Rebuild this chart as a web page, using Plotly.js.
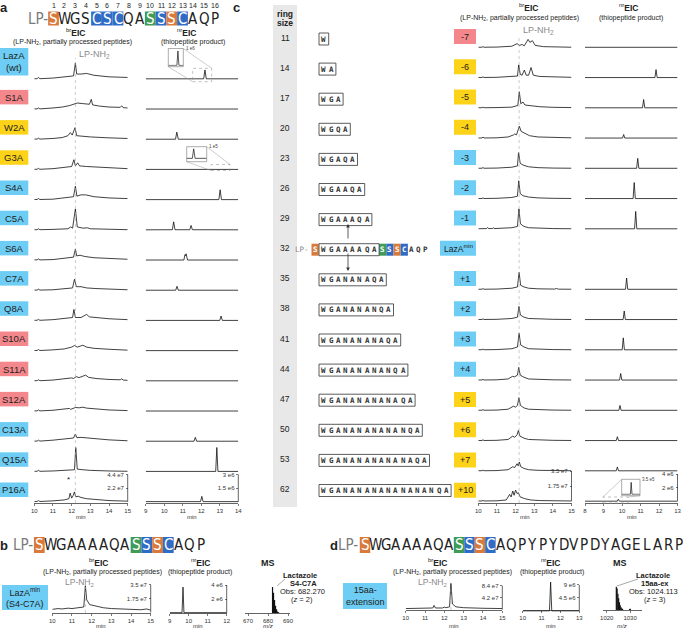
<!DOCTYPE html>
<html>
<head>
<meta charset="utf-8">
<script src="https://cdn.plot.ly/plotly-3.0.1.min.js"></script>
<style>html,body{margin:0;padding:0;background:#fff;}#chart{width:683px;height:630px;}</style>
</head>
<body>
<div id="chart"></div>
<script>
// ======================= DATA =======================
// ---- Panel a : LazA point mutants ----
const aRows  = ['LazA<br>(wt)','S1A','W2A','G3A','S4A','C5A','S6A','C7A','Q8A','S10A','S11A','S12A','C13A','Q15A','P16A'];
const aClass = ['act','none','low','low','act','act','act','act','act','none','none','none','act','act','act'];
const seqA      = ['S','W','G','S','C','S','C','Q','A','S','S','S','C','A','Q','P'];
const seqAColor = ['o','','','','b','b','b','','','g','b','o','b','','',''];

// brEIC traces, panel a  [time (min), intensity (x1e7)]
const brA_wt  = [[10,0.05],[10.15,0.05],[10.22,0.25],[10.3,0.05],[11,0.15],[11.6,0.3],[12.1,0.5],[12.2,2.6],[12.27,0.8],[12.5,0.8],[12.8,0.9],[13.2,0.6],[14,0.35],[15,0.25]];
const brA_S1A = [[10,0.05],[10.15,0.05],[10.22,0.2],[10.3,0.05],[11,0.2],[11.5,0.35],[11.9,0.6],[12.1,0.85],[12.3,1.0],[12.6,0.9],[12.95,0.8],[13.05,1.6],[13.12,0.7],[13.5,0.5],[14,0.35],[14.6,0.3],[14.68,0.55],[14.76,0.25],[15,0.2]];
const brA_W2A = [[10,0.05],[10.15,0.05],[10.22,0.2],[10.3,0.05],[11,0.15],[11.5,0.3],[11.8,0.6],[11.93,1.1],[12.03,0.7],[12.18,1.9],[12.27,0.6],[12.6,0.5],[13,0.4],[14,0.25],[15,0.15]];
const brA_G3A = [[10,0.05],[10.15,0.05],[10.22,0.2],[10.3,0.05],[11,0.15],[11.6,0.3],[12.0,0.5],[12.12,1.6],[12.2,0.6],[12.32,1.1],[12.42,0.6],[12.8,0.5],[13.3,0.4],[14,0.3],[15,0.15]];
const brA_S4A = [[10,0.05],[10.15,0.05],[10.22,0.2],[10.3,0.05],[11,0.1],[11.6,0.3],[12.1,0.5],[12.2,2.2],[12.28,0.6],[12.5,0.8],[12.75,0.8],[13.2,0.5],[14,0.3],[15,0.2]];
const brA_C5A = [[10,0.05],[10.15,0.05],[10.22,0.2],[10.3,0.05],[11,0.1],[11.8,0.2],[11.95,0.5],[12.05,0.3],[12.2,3.4],[12.3,0.5],[12.6,0.3],[12.85,0.35],[13,0.2],[14,0.1],[15,0.05]];
const brA_S6A = [[10,0.05],[10.15,0.05],[10.22,0.2],[10.3,0.05],[11,0.1],[11.6,0.3],[12.1,0.5],[12.2,1.8],[12.27,0.7],[12.45,0.8],[12.7,0.6],[13.2,0.4],[14,0.25],[15,0.15]];
const brA_C7A = [[10,0.05],[10.15,0.05],[10.22,0.2],[10.3,0.05],[11,0.1],[11.6,0.25],[12.05,0.4],[12.15,1.8],[12.25,0.6],[12.5,0.6],[12.8,0.4],[13.3,0.3],[14,0.2],[15,0.1]];
const brA_Q8A = [[10,0.05],[10.15,0.05],[10.22,0.2],[10.3,0.05],[11,0.15],[11.6,0.3],[12.05,0.5],[12.12,1.8],[12.2,0.5],[12.5,0.5],[12.7,0.9],[12.8,1.0],[12.95,0.6],[13.3,0.5],[14,0.3],[15,0.15]];
const brA_S10A= [[10,0.05],[10.15,0.05],[10.22,0.2],[10.3,0.05],[11,0.15],[11.6,0.3],[12.0,0.6],[12.15,0.85],[12.3,0.6],[12.45,0.7],[12.6,0.9],[12.8,0.6],[13.2,0.4],[14,0.25],[15,0.1]];
const brA_S11A= [[10,0.05],[10.15,0.05],[10.22,0.2],[10.3,0.05],[11,0.15],[11.6,0.3],[12.0,0.5],[12.1,0.4],[12.25,0.7],[12.4,0.55],[12.55,0.7],[12.75,0.95],[12.9,0.6],[13.3,0.4],[14,0.25],[14.6,0.2],[14.68,0.35],[14.76,0.15],[15,0.1]];
const brA_S12A= [[10,0.05],[10.15,0.05],[10.22,0.2],[10.3,0.05],[11,0.15],[11.6,0.3],[11.88,0.45],[11.95,0.3],[12.2,0.6],[12.4,0.55],[12.6,0.65],[12.8,0.5],[13.4,0.3],[14,0.2],[15,0.1]];
const brA_C13A= [[10,0.05],[10.15,0.05],[10.22,0.2],[10.3,0.05],[11,0.2],[11.6,0.35],[12.1,0.55],[12.2,1.2],[12.28,0.6],[12.5,0.65],[12.7,0.6],[13.2,0.4],[14,0.25],[15,0.1]];
const brA_Q15A= [[10,0.05],[10.15,0.05],[10.22,0.2],[10.3,0.05],[11,0.1],[11.8,0.2],[12.15,0.3],[12.22,3.9],[12.3,0.4],[12.6,0.3],[13,0.2],[14,0.1],[15,0.05]];
const brA_P16A= [[10,0.05],[10.15,0.05],[10.22,0.2],[10.3,0.05],[11,0.15],[11.6,0.3],[11.85,0.5],[11.92,1.4],[12.0,0.6],[12.08,1.0],[12.15,1.6],[12.22,0.8],[12.35,0.9],[12.5,0.7],[12.8,0.5],[13.3,0.35],[14,0.2],[15,0.1]];

// nrEIC traces, panel a  [time (min), intensity (x1e6)]
const nrA_wt  = [[9,0.02],[12.13,0.02],[12.2,1.0],[12.27,0.02],[14,0.02]];
const nrA_S1A = [[9,0.02],[11.5,0.05],[12.5,0.05],[14,0.02]];
const nrA_W2A = [[9,0.02],[10.61,0.02],[10.68,0.8],[10.76,0.02],[14,0.02]];
const nrA_G3A = [[9,0.02],[12.82,0.02],[12.89,0.1],[12.96,0.02],[14,0.02]];
const nrA_S4A = [[9,0.02],[12.95,0.02],[13.02,1.1],[13.09,0.02],[14,0.02]];
const nrA_C5A = [[9,0.02],[9.8,0.03],[9.85,0.1],[9.9,0.03],[10.44,0.03],[10.51,0.9],[10.58,0.03],[11.38,0.03],[11.45,0.5],[11.52,0.03],[14,0.02]];
const nrA_S6A = [[9,0.02],[11.06,0.02],[11.12,0.6],[11.15,0.5],[11.18,0.7],[11.26,0.02],[14,0.02]];
const nrA_C7A = [[9,0.02],[10.62,0.02],[10.69,0.45],[10.76,0.02],[14,0.02]];
const nrA_Q8A = [[9,0.02],[13.0,0.02],[13.07,0.5],[13.14,0.02],[14,0.02]];
const nrA_S10A= [[9,0.02],[14,0.02]];
const nrA_S11A= [[9,0.02],[14,0.02]];
const nrA_S12A= [[9,0.02],[14,0.02]];
const nrA_C13A= [[9,0.02],[11.61,0.02],[11.68,0.45],[11.75,0.02],[14,0.02]];
const nrA_Q15A= [[9,0.02],[12.78,0.02],[12.84,2.65],[12.9,0.02],[14,0.02]];
const nrA_P16A= [[9,0.02],[11.96,0.02],[12.03,0.6],[12.1,0.02],[14,0.02]];

// ---- Panel c : ring-size variants ----
const cRing  = [11,14,17,20,23,26,29,32,35,38,41,44,47,50,53,62];
const cSeq   = ['W','WA','WGA','WGQA','WGAQA','WGAAQA','WGAAAQA','WGAAAAQA','WGANANAQA','WGANANANQA','WGANANANAQA','WGANANANANQA','WGANANANANAQA','WGANANANANANQA','WGANANANANANAQA','WGANANANANANANANQA'];
const cLabels= ['-7','-6','-5','-4','-3','-2','-1','LazA<sup>min</sup>','+1','+2','+3','+4','+5','+6','+7','+10'];
const cClass = ['none','low','low','low','act','act','act','act','act','act','act','act','low','low','low','low'];

const brC_m7 = [[10,0.03],[10.2,0.03],[10.25,0.12],[10.3,0.03],[11,0.05],[11.8,0.15],[12.08,0.45],[12.2,0.25],[12.35,0.35],[12.47,0.2],[12.67,0.95],[12.77,0.6],[12.9,0.8],[13.05,0.25],[13.5,0.1],[14,0.05],[15,0.03]];
const brC_m6 = [[10,0.03],[10.2,0.03],[10.25,0.12],[10.3,0.03],[11,0.05],[11.8,0.1],[12.1,0.2],[12.17,1.5],[12.25,0.4],[12.35,0.3],[12.47,0.9],[12.57,0.3],[12.7,0.3],[12.83,1.2],[12.95,0.3],[13.3,0.15],[14,0.08],[15,0.05]];
const brC_m5 = [[10,0.03],[10.2,0.03],[10.25,0.12],[10.3,0.03],[11,0.05],[11.8,0.1],[12.12,0.3],[12.2,1.9],[12.28,0.5],[12.4,0.7],[12.5,0.35],[12.8,0.25],[13.3,0.15],[14,0.08],[15,0.05]];
const brC_m4 = [[10,0.03],[10.2,0.03],[10.25,0.15],[10.3,0.03],[11,0.05],[11.6,0.15],[11.9,0.4],[11.95,0.5],[12.05,0.4],[12.2,1.4],[12.3,0.8],[12.45,0.6],[12.6,0.5],[12.75,0.3],[13.2,0.15],[14,0.08],[15,0.05]];
const brC_m3 = [[10,0.03],[10.2,0.03],[10.25,0.12],[10.3,0.03],[11,0.05],[11.8,0.15],[12.1,0.3],[12.16,1.85],[12.25,0.6],[12.4,0.4],[12.7,0.2],[13.2,0.1],[14,0.05],[15,0.03]];
const brC_m2 = [[10,0.03],[10.2,0.03],[10.25,0.12],[10.3,0.03],[11,0.05],[11.8,0.15],[12.1,0.3],[12.17,2.1],[12.25,0.6],[12.4,0.35],[12.7,0.2],[13.2,0.1],[14,0.05],[15,0.03]];
const brC_m1 = [[10,0.03],[10.45,0.05],[10.5,0.18],[10.55,0.05],[10.75,0.05],[10.8,0.15],[10.85,0.05],[11.3,0.08],[11.8,0.15],[12.1,0.3],[12.18,2.35],[12.26,0.6],[12.45,0.3],[12.7,0.15],[13.2,0.08],[14,0.05],[15,0.03]];
const brC_p1 = [[10,0.03],[10.2,0.03],[10.25,0.12],[10.3,0.03],[11,0.05],[11.8,0.15],[12.1,0.3],[12.19,2.0],[12.27,0.5],[12.45,0.3],[12.7,0.15],[13.2,0.08],[14.1,0.05],[14.2,0.12],[14.3,0.04],[15,0.03]];
const brC_p2 = [[10,0.03],[10.2,0.03],[10.25,0.12],[10.3,0.03],[11,0.05],[11.8,0.15],[12.1,0.3],[12.18,1.55],[12.26,0.55],[12.45,0.3],[12.7,0.15],[13.2,0.08],[14,0.05],[15,0.03]];
const brC_p3 = [[10,0.03],[10.2,0.03],[10.25,0.12],[10.3,0.03],[11,0.05],[11.8,0.15],[12.1,0.35],[12.19,1.95],[12.27,0.6],[12.45,0.35],[12.7,0.15],[13.2,0.08],[14,0.05],[15,0.03]];
const brC_p4 = [[10,0.03],[10.2,0.03],[10.25,0.12],[10.3,0.03],[11,0.05],[11.6,0.15],[11.83,0.45],[11.95,0.4],[12.1,0.6],[12.17,1.5],[12.25,0.6],[12.45,0.35],[12.7,0.15],[13.2,0.08],[14,0.05],[15,0.03]];
const brC_p5 = [[10,0.03],[10.2,0.03],[10.25,0.12],[10.3,0.03],[11,0.05],[11.6,0.15],[11.88,0.5],[12.0,0.4],[12.1,0.6],[12.18,1.5],[12.26,0.6],[12.45,0.3],[12.7,0.15],[13.2,0.08],[14,0.05],[15,0.03]];
const brC_p6 = [[10,0.03],[10.2,0.03],[10.25,0.12],[10.3,0.03],[11,0.05],[11.6,0.15],[11.85,0.55],[11.95,0.4],[12.08,0.7],[12.15,1.2],[12.23,0.55],[12.45,0.3],[12.7,0.15],[13.2,0.08],[14,0.05],[15,0.03]];
const brC_p7 = [[10,0.03],[10.2,0.03],[10.25,0.12],[10.3,0.03],[11,0.05],[11.6,0.15],[11.85,0.5],[11.95,0.4],[12.08,0.85],[12.14,0.6],[12.2,1.05],[12.28,0.5],[12.45,0.3],[12.7,0.15],[13.2,0.08],[14,0.05],[15,0.03]];
const brC_p10= [[10,0.03],[10.2,0.03],[10.25,0.12],[10.3,0.03],[11,0.05],[11.5,0.15],[11.68,0.8],[11.76,0.5],[11.85,1.2],[11.92,0.7],[12.0,1.3],[12.08,0.9],[12.15,1.0],[12.25,0.5],[12.5,0.3],[12.8,0.15],[13.3,0.08],[14,0.05],[15,0.03]];

const nrC_m7 = [[8,0.03],[13,0.03]];
const nrC_m6 = [[8,0.03],[11.78,0.03],[11.84,1.2],[11.9,0.03],[13,0.03]];
const nrC_m5 = [[8,0.03],[11.11,0.03],[11.17,1.25],[11.23,0.03],[13,0.03]];
const nrC_m4 = [[8,0.03],[10.03,0.03],[10.09,0.55],[10.15,0.03],[13,0.03]];
const nrC_m3 = [[8,0.03],[10.79,0.03],[10.85,1.5],[10.91,0.03],[13,0.03]];
const nrC_m2 = [[8,0.03],[10.6,0.03],[10.66,2.4],[10.72,0.03],[13,0.03]];
const nrC_m1 = [[8,0.03],[10.68,0.03],[10.74,2.6],[10.8,0.03],[13,0.03]];
const nrC_p1 = [[8,0.03],[10.19,0.03],[10.25,1.7],[10.31,0.03],[13,0.03]];
const nrC_p2 = [[8,0.03],[10.06,0.03],[10.12,1.3],[10.18,0.03],[13,0.03]];
const nrC_p3 = [[8,0.03],[10.01,0.03],[10.07,1.8],[10.13,0.03],[13,0.03]];
const nrC_p4 = [[8,0.03],[9.87,0.03],[9.93,1.0],[9.99,0.03],[13,0.03]];
const nrC_p5 = [[8,0.03],[9.83,0.03],[9.89,0.75],[9.95,0.03],[13,0.03]];
const nrC_p6 = [[8,0.03],[9.69,0.03],[9.75,0.6],[9.81,0.03],[13,0.03]];
const nrC_p7 = [[8,0.03],[9.69,0.03],[9.75,0.6],[9.81,0.03],[13,0.03]];
const nrC_p10= [[8,0.01],[9.74,0.01],[9.8,0.3],[9.86,0.01],[13,0.01]];

// ---- Panel b : LazAmin (S4-C7A) ----
const seqB      = ['S','W','G','A','A','A','A','Q','A','S','S','S','C','A','Q','P'];
const seqBColor = ['o','','','','','','','','','g','b','o','b','','',''];
const brB = [[10,0.4],[10.3,0.5],[10.5,0.45],[10.8,0.55],[11,0.5],[11.3,0.6],[11.6,0.7],[11.68,3.4],[11.75,1.6],[11.9,1.0],[12.2,0.8],[12.6,0.6],[13,0.5],[13.5,0.45],[14,0.4],[14.5,0.35],[14.8,0.45],[15,0.3]];
const nrB = [[9,0.05],[9.65,0.05],[9.7,3.7],[9.75,0.05],[12,0.05]];
const msB_mz  = [682.27,682.77,683.27,683.77,684.27,684.77,685.27];
const msB_int = [1.0,0.78,0.5,0.28,0.14,0.06,0.03];

// ---- Panel d : 15aa-extension ----
const seqD      = ['S','W','G','A','A','A','A','Q','A','S','S','S','C','A','Q','P','Y','P','Y','D','V','P','D','Y','A','G','E','L','A','R','P'];
const seqDColor = ['o','','','','','','','','','g','b','o','b','','','','','','','','','','','','','','','','','',''];
const brD = [[10,0.4],[10.5,0.5],[11,0.5],[11.4,0.6],[11.47,1.5],[11.54,0.6],[11.9,0.6],[12.0,0.9],[12.08,0.7],[12.27,1.0],[12.34,9.2],[12.42,2.0],[12.6,1.0],[13,0.7],[14,0.5],[15,0.4]];
const nrD = [[10,0.05],[11.42,0.05],[11.48,10.0],[11.54,0.05],[13,0.05]];
const msD_mz  = [1024.11,1024.45,1024.78,1025.11,1025.45,1025.78,1026.11,1026.45,1026.78,1029.8,1030.1];
const msD_int = [1.0,0.92,0.7,0.5,0.33,0.2,0.12,0.07,0.04,0.04,0.05];

const aBr = [brA_wt,brA_S1A,brA_W2A,brA_G3A,brA_S4A,brA_C5A,brA_S6A,brA_C7A,brA_Q8A,brA_S10A,brA_S11A,brA_S12A,brA_C13A,brA_Q15A,brA_P16A];
const aNr = [nrA_wt,nrA_S1A,nrA_W2A,nrA_G3A,nrA_S4A,nrA_C5A,nrA_S6A,nrA_C7A,nrA_Q8A,nrA_S10A,nrA_S11A,nrA_S12A,nrA_C13A,nrA_Q15A,nrA_P16A];
const cBr = [brC_m7,brC_m6,brC_m5,brC_m4,brC_m3,brC_m2,brC_m1,null,brC_p1,brC_p2,brC_p3,brC_p4,brC_p5,brC_p6,brC_p7,brC_p10];
const cNr = [nrC_m7,nrC_m6,nrC_m5,nrC_m4,nrC_m3,nrC_m2,nrC_m1,null,nrC_p1,nrC_p2,nrC_p3,nrC_p4,nrC_p5,nrC_p6,nrC_p7,nrC_p10];

// ======================= BUILD =======================
const W = 683, H = 630;
const fx = p => p / W;
const fy = p => 1 - p / H;
const FONT = 'Liberation Sans, Arial, sans-serif';
const SEQF = 'Liberation Sans Narrow, DejaVu Sans Condensed, Liberation Sans, sans-serif';
const MONO = 'DejaVu Sans Mono, Liberation Mono, monospace';
const CLS = {act:'#6dcdf4', none:'#f4878c', low:'#fdd31a'};
const RES = {o:'#d97a3d', b:'#2f6cc6', g:'#3f9b55'};

const layout = {width:W, height:H, margin:{l:0,r:0,t:0,b:0}, paper_bgcolor:'#fff', plot_bgcolor:'rgba(0,0,0,0)',
  showlegend:false, font:{family:FONT, size:8, color:'#222'}, annotations:[], shapes:[]};
const data = [];
let nx = 0, ny = 0;

function T(x, y, text, size, o) {
  o = o || {};
  layout.annotations.push({xref:'paper', yref:'paper', x:fx(x), y:fy(y), text:text, showarrow:false,
    xanchor:o.xa || 'center', yanchor:o.ya || 'middle', borderpad:0,
    font:{size:size, color:o.color || '#222', family:o.family || FONT}});
}
function R(x0, y0, x1, y1, fill, o) {
  o = o || {};
  layout.shapes.push({type:'rect', xref:'paper', yref:'paper', x0:fx(x0), x1:fx(x1), y0:fy(y1), y1:fy(y0),
    fillcolor:fill || 'rgba(0,0,0,0)', layer:o.layer || 'below',
    line:{color:o.lc || 'rgba(0,0,0,0)', width:o.lw || 0, dash:o.dash || 'solid'}});
}
function L(x0, y0, x1, y1, color, w, dash) {
  layout.shapes.push({type:'line', xref:'paper', yref:'paper', x0:fx(x0), y0:fy(y0), x1:fx(x1), y1:fy(y1),
    line:{color:color, width:w || 0.6, dash:dash || 'solid'}});
}
function addX(x0, x1, range, ypx, tickvals, extra) {
  nx++;
  const key = nx === 1 ? 'xaxis' : 'xaxis' + nx;
  const id = nx === 1 ? 'x' : 'x' + nx;
  layout[key] = Object.assign({domain:[fx(x0), fx(x1)], range:range, anchor:'free', position:fy(ypx),
    showgrid:false, zeroline:false, showline:true, linecolor:'#222', linewidth:0.7,
    ticks:'outside', ticklen:2, tickwidth:0.6, tickcolor:'#222', tickmode:'array', tickvals:tickvals,
    tickfont:{size:6, color:'#333'}, fixedrange:true}, extra || {});
  return {id:id, x0:x0, x1:x1};
}
function addY(xax, yBot, yTop, range, extra) {
  ny++;
  const key = ny === 1 ? 'yaxis' : 'yaxis' + ny;
  const id = ny === 1 ? 'y' : 'y' + ny;
  layout[key] = Object.assign({domain:[fy(yBot), fy(yTop)], range:range, anchor:xax.id,
    showgrid:false, zeroline:false, showline:false, showticklabels:false, ticks:'', fixedrange:true}, extra || {});
  return {id:id};
}
// one chromatogram row: base = pixel row of zero intensity, u = intensity per pixel
function rowY(xax, base, u, below, above, scale) {
  let r1 = above * u;
  if (scale) r1 = Math.max(r1, scale.top + 3 * u);
  const r0 = -below * u;
  const extra = scale ? {side:'right', showticklabels:true, ticks:'inside', ticklen:2, tickwidth:0.6, tickcolor:'#222',
    ticklabelposition:'inside', ticklabeloverflow:'allow', tickmode:'array', tickvals:scale.vals, ticktext:scale.text,
    tickfont:{size:6, color:'#333'}} : null;
  const y = addY(xax, base + below, base - r1 / u, [r0, r1], extra);
  if (scale) L(xax.x1, base, xax.x1, base - scale.top / u, '#222', 0.7);
  return y;
}
function line(pairs, xax, yax, color, width) {
  data.push({type:'scatter', mode:'lines', x:pairs.map(p => p[0]), y:pairs.map(p => p[1]),
    xaxis:xax.id, yaxis:yax.id, line:{color:color || '#111', width:width || 0.8}, hoverinfo:'skip'});
}
function sticks(mz, inten, xax, yax) {
  const xs = [], ys = [];
  mz.forEach((m, i) => { xs.push(m, m, null); ys.push(0, inten[i], null); });
  data.push({type:'scatter', mode:'lines', x:xs, y:ys, xaxis:xax.id, yaxis:yax.id,
    line:{color:'#111', width:1.2}, hoverinfo:'skip', connectgaps:false});
}
function seqLetters(seq, colors, x0, pitch, yc, size, boxH) {
  seq.forEach((ch, i) => {
    const cx = x0 + i * pitch;
    if (colors[i]) R(cx - pitch / 2, yc - boxH / 2, cx + pitch / 2, yc + boxH / 2, RES[colors[i]]);
    T(cx, yc, ch, size, {family:SEQF, color:colors[i] ? '#fff' : '#222'});
  });
}
function inset(pairs, xr, yr, box, dash, lines, label) {
  const xi = addX(box[0], box[2], xr, box[3], [], {visible:false});
  const yi = addY(xi, box[3] - 1, box[1] + 1, yr);
  line(pairs, xi, yi, '#111', 0.7);
  R(box[0], box[1], box[2], box[3], null, {lc:'#888', lw:0.7, layer:'above'});
  R(dash[0], dash[1], dash[2], dash[3], null, {lc:'#999', lw:0.6, dash:'dot', layer:'above'});
  lines.forEach(l => L(l[0], l[1], l[2], l[3], '#999', 0.5));
  T(label[0], label[1], label[2], 4.5, {xa:'left', color:'#444'});
}

// ---------- panel a ----------
T(4, 8, '<b>a</b>', 13);
T(48.5, 18.5, 'LP-', 15, {family:SEQF, color:'#7a7a7a', xa:'right'});
seqLetters(seqA, seqAColor, 53.5, 10.75, 18.5, 15, 14);
seqA.forEach((ch, i) => T(53.5 + i * 10.75, 5.5, String(i + 1), 7));
T(75, 32.5, '<sup>br</sup><b>EIC</b>', 8.5);
T(72.5, 42, '(LP-NH<sub>2</sub>, partially processed peptides)', 7);
T(186, 32.5, '<sup>nr</sup><b>EIC</b>', 8.5);
T(193, 42, '(thiopeptide product)', 7);
T(94, 54, 'LP-NH<sub>2</sub>', 9, {color:'#8a8a8a'});

const xAbr = addX(34.3, 127.7, [10, 15], 503, [10, 11, 12, 13, 14, 15]);
const xAnr = addX(145.7, 238.3, [9, 14], 503, [9, 10, 11, 12, 13, 14]);
T(81, 517, 'min', 6, {color:'#333'});
T(192, 517, 'min', 6, {color:'#333'});
const uAbr = 0.162, uAnr = 0.11;
aRows.forEach((lab, i) => {
  const base = 79 + i * 30.2;
  const last = i === aRows.length - 1;
  const yb = rowY(xAbr, base, uAbr, 1.5, 29, last ? {top:4.4, vals:[2.2, 4.4], text:['2.2 e7', '4.4 e7']} : null);
  line(aBr[i], xAbr, yb);
  const yn2 = rowY(xAnr, base, uAnr, 1.5, 29, last ? {top:3, vals:[1.5, 3], text:['1.5 e6', '3 e6']} : null);
  line(aNr[i], xAnr, yn2);
  if (i === 0) { R(0, 48, 28.3, 75.5, CLS[aClass[i]]); T(14, 62, lab, 9.5); }
  else { R(0, base - 19.3, 28.3, base - 4.8, CLS[aClass[i]]); T(14, base - 12, lab, 9.5); }
  if (i === 0) inset(aNr[i], [11.54, 12.57], [0, 1.1], [168.3, 48.5, 183.3, 66.7], [192.7, 68.3, 211.7, 81.7],
    [[183.3, 48.5, 211.7, 68.3], [168.3, 66.7, 192.7, 81.7]], [185, 49, '1 e6']);
  if (i === 3) inset(aNr[i], [12.53, 13.56], [0, 0.11], [186.7, 146.7, 206.7, 161.7], [211, 164.5, 230, 170.5],
    [[206.7, 146.7, 230, 164.5], [186.7, 161.7, 211, 170.5]], [208, 146, '1 e5']);
});
layout.shapes.push({type:'line', xref:xAbr.id, yref:'paper', x0:12.2, x1:12.2, y0:fy(503), y1:fy(58),
  line:{color:'#aaa', width:0.6, dash:'dot'}});
T(68, 479, '*', 8);

// ---------- panel c ----------
T(236, 8, '<b>c</b>', 13);
R(273, 5, 297, 507, '#e8e8e8');
T(285, 14, '<b>ring</b>', 8.5);
T(285, 23, '<b>size</b>', 8.5);
T(528, 7.5, '<sup>br</sup><b>EIC</b>', 8.5);
T(519.5, 18, '(LP-NH<sub>2</sub>, partially processed peptides)', 7);
T(628, 7.5, '<sup>nr</sup><b>EIC</b>', 8.5);
T(631, 18, '(thiopeptide product)', 7);
T(538, 30.5, 'LP-NH<sub>2</sub>', 9, {color:'#8a8a8a'});

const xCbr = addX(478.3, 571.5, [10, 15], 503, [10, 11, 12, 13, 14, 15]);
const xCnr = addX(585, 677.5, [8, 13], 503, [8, 9, 10, 11, 12, 13]);
T(525, 517, 'min', 6, {color:'#333'});
T(632, 517, 'min', 6, {color:'#333'});
const uCbr = 0.117, uCnr = 0.148;
const PITCH = 7.2, BOXL = 319;
cRing.forEach((rs, i) => {
  const yc = 37.5 + i * 30.1;
  const base = 47.5 + i * 30.25;
  T(285, yc, String(rs), 8.5);
  const s = cSeq[i];
  const n = s.length;
  R(BOXL, yc - 4.5, BOXL + 2.5 + n * PITCH, yc + 7.5, '#fff', {lc:'#333', lw:0.8, layer:'above'});
  for (let k = 0; k < n; k++) T(BOXL + 1.25 + PITCH / 2 + k * PITCH, yc + 1.5, '<b>' + s[k] + '</b>', 7.5, {family:MONO, color:'#333'});
  if (i === 7) {
    T(310, yc + 1.5, 'LP-', 7.5, {family:MONO, color:'#888', xa:'right'});
    R(311.5, yc - 4.5, 318.7, yc + 7.5, RES.o);
    T(315.1, yc + 1.5, '<b>S</b>', 7.5, {family:MONO, color:'#fff'});
    const tail = ['S', 'S', 'S', 'C', 'A', 'Q', 'P'];
    const tailC = ['g', 'b', 'o', 'b', '', '', ''];
    const x0 = BOXL + 2.5 + n * PITCH;
    tail.forEach((ch, k) => {
      const cx = x0 + PITCH / 2 + k * PITCH;
      if (tailC[k]) R(cx - PITCH / 2, yc - 4.5, cx + PITCH / 2, yc + 7.5, RES[tailC[k]]);
      T(cx, yc + 1.5, '<b>' + ch + '</b>', 7.5, {family:MONO, color:tailC[k] ? '#fff' : '#333'});
    });
    R(440, base - 18.5, 476, base - 3.5, CLS[cClass[i]]);
    T(458, base - 11, cLabels[i], 8.5);
  } else {
    R(454, base - 18.5, 476, base - 3.5, CLS[cClass[i]]);
    T(465, base - 11, cLabels[i], 9);
    const last = i === cRing.length - 1;
    const yb = rowY(xCbr, base, uCbr, 1.5, 29, last ? {top:3.5, vals:[1.75, 3.5], text:['1.75 e7', '3.5 e7']} : null);
    line(cBr[i], xCbr, yb);
    const yn2 = rowY(xCnr, base, uCnr, 1.5, 29, last ? {top:4, vals:[2, 4], text:['2 e6', '4 e6']} : null);
    line(cNr[i], xCnr, yn2);
    if (last) inset(cNr[i], [9.1, 10.45], [0, 0.35], [621.7, 479.3, 640, 495.7], [603, 497, 628, 503],
      [[621.7, 479.3, 603, 497], [640, 495.7, 628, 497]], [641, 479.5, '3.5 e5']);
  }
});
// arrows in the LazAmin row
layout.annotations.push({xref:'paper', yref:'paper', x:fx(348), y:fy(224), ax:0, ay:17, text:' ', showarrow:true,
  arrowhead:2, arrowsize:0.9, arrowwidth:0.8, arrowcolor:'#333', font:{size:2}});
layout.annotations.push({xref:'paper', yref:'paper', x:fx(348), y:fy(271), ax:0, ay:-20, text:' ', showarrow:true,
  arrowhead:2, arrowsize:0.9, arrowwidth:0.8, arrowcolor:'#333', font:{size:2}});
layout.shapes.push({type:'line', xref:xCbr.id, yref:'paper', x0:12.19, x1:12.19, y0:fy(503), y1:fy(35),
  line:{color:'#aaa', width:0.6, dash:'dot'}});

// ---------- panel b ----------
T(4, 545, '<b>b</b>', 13);
T(34, 545, 'LP-', 15, {family:SEQF, color:'#7a7a7a', xa:'right'});
seqLetters(seqB, seqBColor, 39.3, 10.75, 545, 15, 16);
T(98, 562.5, '<sup>br</sup><b>EIC</b>', 8.5);
T(102, 572, '(LP-NH<sub>2</sub>, partially processed peptides)', 7);
T(200, 562.5, '<sup>nr</sup><b>EIC</b>', 8.5);
T(200, 572, '(thiopeptide product)', 7);
T(268, 563, '<b>MS</b>', 9);
T(79, 582, 'LP-NH<sub>2</sub>', 8.5, {color:'#8a8a8a'});
R(2, 585, 48, 610, CLS.act);
T(25, 597.5, 'LazA<sup>min</sup><br>(S4-C7A)', 9);
const xBbr = addX(52.3, 150.7, [10, 15], 613.5, [10, 11, 12, 13, 14, 15]);
const xBnr = addX(169.7, 226.7, [9, 12], 613.5, [9, 10, 11, 12]);
const xBms = addX(245, 290, [668.5, 691], 613.5, [670, 680, 690]);
T(101, 626, 'min', 6, {color:'#333'});
T(198, 626, 'min', 6, {color:'#333'});
T(268, 626, '<i>m/z</i>', 6, {color:'#333'});
const yBbr = rowY(xBbr, 612.5, 0.127, 1, 33, {top:3.5, vals:[1.75, 3.5], text:['1.75 e7', '3.5 e7']});
line(brB, xBbr, yBbr);
const yBnr = rowY(xBnr, 613, 0.143, 1, 33, {top:4, vals:[2, 4], text:['2 e6', '4 e6']});
line(nrB, xBnr, yBnr);
const yBms = rowY(xBms, 613, 1 / 26, 0.5, 33, null);
sticks(msB_mz, msB_int, xBms, yBms);
layout.shapes.push({type:'line', xref:xBbr.id, yref:'paper', x0:11.68, x1:11.68, y0:fy(613), y1:fy(587),
  line:{color:'#aaa', width:0.6, dash:'dot'}});
L(277, 586, 285, 579, '#555', 0.5);
T(300, 575.5, '<b>Lactazole</b>', 7.5);
T(303, 583.5, '<b>S4-C7A</b>', 7.5);
T(302, 591.5, 'Obs: 682.270', 7.5);
T(302, 599.5, '(<i>z</i> = 2)', 7.5);

// ---------- panel d ----------
T(334, 545, '<b>d</b>', 13);
T(359.5, 545, 'LP-', 15, {family:SEQF, color:'#7a7a7a', xa:'right'});
seqLetters(seqD, seqDColor, 365, 10.45, 545, 15, 16);
T(437, 562.5, '<sup>br</sup><b>EIC</b>', 8.5);
T(452, 572, '(LP-NH<sub>2</sub>, partially processed peptides)', 7);
T(550, 562.5, '<sup>nr</sup><b>EIC</b>', 8.5);
T(552, 572, '(thiopeptide product)', 7);
T(620, 563, '<b>MS</b>', 9);
T(432, 582, 'LP-NH<sub>2</sub>', 8.5, {color:'#8a8a8a'});
R(343, 583, 387, 609, CLS.act);
T(365, 596, '15aa-<br>extension', 9);
const xDbr = addX(405.7, 502.3, [10, 15], 610, [10, 11, 12, 13, 14, 15]);
const xDnr = addX(522.7, 579.3, [10, 13], 610, [10, 11, 12, 13]);
const xDms = addX(603, 642, [1018.4, 1035.1], 610, [1020, 1030]);
T(454, 626, 'min', 6, {color:'#333'});
T(551, 626, 'min', 6, {color:'#333'});
T(622, 626, '<i>m/z</i>', 6, {color:'#333'});
const yDbr = rowY(xDbr, 609.7, 0.35, 1, 33, {top:8.4, vals:[4.2, 8.4], text:['4.2 e7', '8.4 e7']});
line(brD, xDbr, yDbr);
const yDnr = rowY(xDnr, 611, 0.346, 1, 33, {top:9, vals:[4.5, 9], text:['4.5 e6', '9 e6']});
line(nrD, xDnr, yDnr);
const yDms = rowY(xDms, 610, 1 / 23.3, 0.5, 33, null);
sticks(msD_mz, msD_int, xDms, yDms);
layout.shapes.push({type:'line', xref:xDbr.id, yref:'paper', x0:12.34, x1:12.34, y0:fy(610), y1:fy(587),
  line:{color:'#aaa', width:0.6, dash:'dot'}});
L(617, 586, 638, 579, '#555', 0.5);
T(653, 575.5, '<b>Lactazole</b>', 7.5);
T(655, 583.5, '<b>15aa-ex</b>', 7.5);
T(653, 591.5, 'Obs: 1024.113', 7.5);
T(655, 599.5, '(<i>z</i> = 3)', 7.5);

Plotly.newPlot('chart', data, layout, {staticPlot:true, displayModeBar:false});
</script>
</body>
</html>
